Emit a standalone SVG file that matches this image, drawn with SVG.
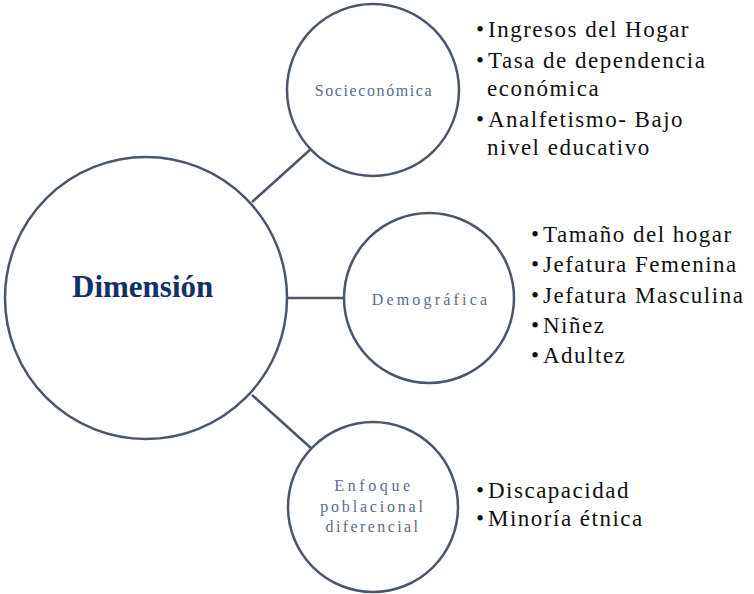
<svg xmlns="http://www.w3.org/2000/svg" width="754" height="594" viewBox="0 0 754 594">
<style>
text{font-family:'Liberation Serif','Times New Roman',serif !important}
.c{fill:#fff;stroke:#4b5668;stroke-width:2.5}
</style>
<rect width="754" height="594" fill="#fff"/>
<g id="connectors" stroke="#4b5668" stroke-width="2.5" fill="none">
<line x1="252" y1="202" x2="312" y2="148"/>
<line x1="288" y1="298" x2="343" y2="298"/>
<line x1="252" y1="395" x2="312" y2="449"/>
</g>
<g id="dimension">
<circle class="c" cx="146" cy="298" r="141"/>
<text x="72" y="297" style="font-family:'Liberation Serif',serif !important;font-size:31px;font-weight:bold" fill="#12306a">Dimensión</text>
</g>
<g id="socioeconomica">
<circle class="c" cx="373" cy="90" r="86"/>
<text x="374" y="96" style="font-family:'Liberation Serif',serif !important;font-size:16px" fill="#5d6b84" text-anchor="middle" letter-spacing="1.6">Socieconómica</text>
</g>
<g id="demografica">
<circle class="c" cx="429" cy="298" r="85"/>
<text x="431" y="305" style="font-family:'Liberation Serif',serif !important;font-size:16px" fill="#5d6b84" text-anchor="middle" letter-spacing="3.2">Demográfica</text>
</g>
<g id="enfoque" fill="#5d6b84" text-anchor="middle">
<circle class="c" cx="373" cy="507" r="85"/>
<text x="374" y="491" style="font-family:'Liberation Serif',serif !important;font-size:16px" letter-spacing="3.6">Enfoque</text>
<text x="373" y="512" style="font-family:'Liberation Serif',serif !important;font-size:16px" letter-spacing="2.8">poblacional</text>
<text x="373" y="532" style="font-family:'Liberation Serif',serif !important;font-size:16px" letter-spacing="2.4">diferencial</text>
</g>
<g id="list-socioeconomica" fill="#111" letter-spacing="1.5">
<text x="476" y="37" style="font-family:'Liberation Serif',serif !important;font-size:23px">•</text><text x="488" y="37" style="font-family:'Liberation Serif',serif !important;font-size:23px">Ingresos del Hogar</text>
<text x="476" y="68" style="font-family:'Liberation Serif',serif !important;font-size:23px">•</text><text x="488" y="68" style="font-family:'Liberation Serif',serif !important;font-size:23px">Tasa de dependencia</text>
<text x="487" y="96" style="font-family:'Liberation Serif',serif !important;font-size:23px">económica</text>
<text x="476" y="127" style="font-family:'Liberation Serif',serif !important;font-size:23px">•</text><text x="488" y="127" style="font-family:'Liberation Serif',serif !important;font-size:23px">Analfetismo- Bajo</text>
<text x="487" y="155" style="font-family:'Liberation Serif',serif !important;font-size:23px">nivel educativo</text>
</g>
<g id="list-demografica" fill="#111" letter-spacing="1.5">
<text x="531" y="242" style="font-family:'Liberation Serif',serif !important;font-size:23px">•</text><text x="543" y="242" style="font-family:'Liberation Serif',serif !important;font-size:23px">Tamaño del hogar</text>
<text x="531" y="272" style="font-family:'Liberation Serif',serif !important;font-size:23px">•</text><text x="543" y="272" style="font-family:'Liberation Serif',serif !important;font-size:23px">Jefatura Femenina</text>
<text x="531" y="303" style="font-family:'Liberation Serif',serif !important;font-size:23px">•</text><text x="543" y="303" style="font-family:'Liberation Serif',serif !important;font-size:23px">Jefatura Masculina</text>
<text x="531" y="333" style="font-family:'Liberation Serif',serif !important;font-size:23px">•</text><text x="543" y="333" style="font-family:'Liberation Serif',serif !important;font-size:23px">Niñez</text>
<text x="531" y="363" style="font-family:'Liberation Serif',serif !important;font-size:23px">•</text><text x="543" y="363" style="font-family:'Liberation Serif',serif !important;font-size:23px">Adultez</text>
</g>
<g id="list-enfoque" fill="#111" letter-spacing="1.5">
<text x="476" y="498" style="font-family:'Liberation Serif',serif !important;font-size:23px">•</text><text x="488" y="498" style="font-family:'Liberation Serif',serif !important;font-size:23px">Discapacidad</text>
<text x="476" y="526" style="font-family:'Liberation Serif',serif !important;font-size:23px">•</text><text x="488" y="526" style="font-family:'Liberation Serif',serif !important;font-size:23px">Minoría étnica</text>
</g>
</svg>
